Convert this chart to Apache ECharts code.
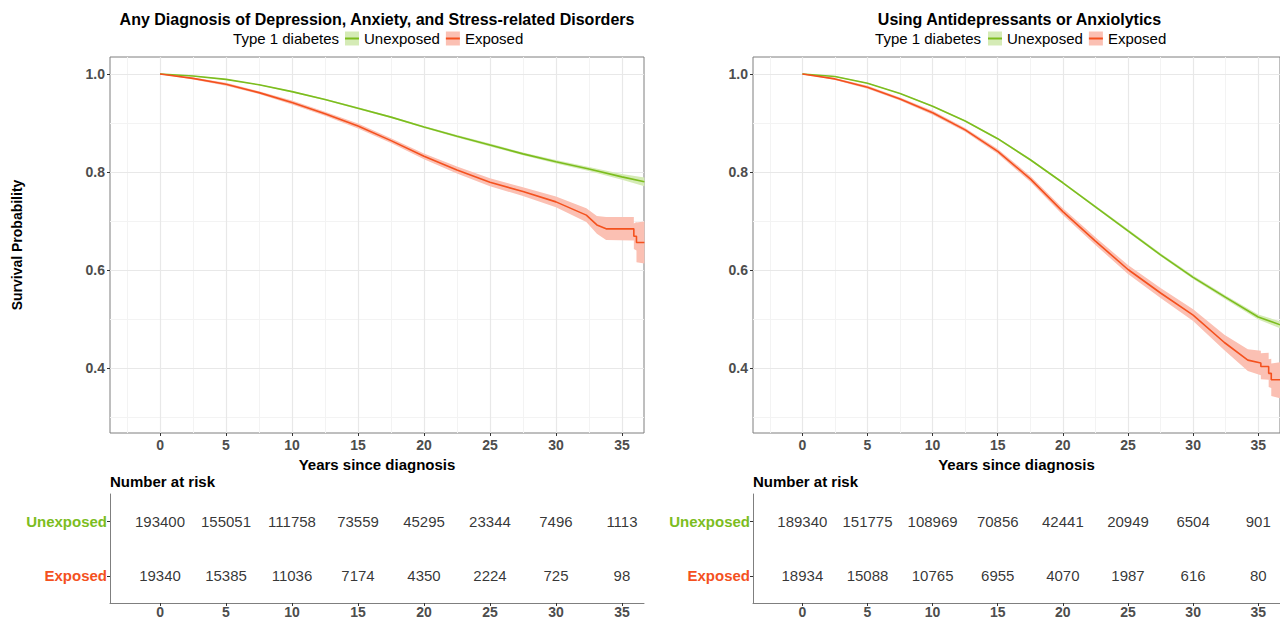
<!DOCTYPE html>
<html>
<head>
<meta charset="utf-8">
<script src="https://cdn.jsdelivr.net/npm/echarts@6/dist/echarts.min.js"></script>
<style>html,body{margin:0;padding:0;background:#fff;}#c{width:1280px;height:619px;}</style>
</head>
<body>
<div id="c"></div>
<script>
// ---------- data ----------
const titles = ['Any Diagnosis of Depression, Anxiety, and Stress-related Disorders', 'Using Antidepressants or Anxiolytics'];
const groups = ['Unexposed', 'Exposed'];
const xMajor = [0, 5, 10, 15, 20, 25, 30, 35];
const xMinor = [-2.5, 2.5, 7.5, 12.5, 17.5, 22.5, 27.5, 32.5];
const yMajor = [0.4, 0.6, 0.8, 1.0];
const yMinor = [0.3, 0.5, 0.7, 0.9];
const riskTimes = [0, 5, 10, 15, 20, 25, 30, 35];

// Panel 1 - Any diagnosis
const p1U_t  = [0, 2.5, 5, 7.5, 10, 12.5, 15, 17.5, 20, 22.5, 25, 27.5, 30, 32.5, 35, 36.7];
const p1U_s  = [1.000, 0.996, 0.989, 0.978, 0.964, 0.948, 0.930, 0.912, 0.892, 0.873, 0.855, 0.837, 0.821, 0.806, 0.790, 0.780];
const p1U_lo = [1.000, 0.995, 0.988, 0.977, 0.9625, 0.9465, 0.928, 0.910, 0.890, 0.8705, 0.852, 0.834, 0.8175, 0.802, 0.784, 0.771];
const p1U_hi = [1.000, 0.997, 0.990, 0.979, 0.9655, 0.9495, 0.932, 0.914, 0.894, 0.8755, 0.858, 0.840, 0.8245, 0.810, 0.796, 0.789];

const p1E_t  = [0, 2.5, 5, 7.5, 10, 12.5, 15, 17.5, 20, 22.5, 25, 27.5, 30, 32.3, 33.1, 33.8, 35.9, 35.9, 36.1, 36.1, 36.7];
const p1E_s  = [1.000, 0.991, 0.979, 0.962, 0.942, 0.919, 0.894, 0.864, 0.832, 0.804, 0.779, 0.760, 0.739, 0.712, 0.692, 0.684, 0.684, 0.669, 0.669, 0.656, 0.656];
const p1E_lo = [1.000, 0.989, 0.976, 0.959, 0.938, 0.915, 0.889, 0.859, 0.826, 0.797, 0.771, 0.751, 0.728, 0.698, 0.674, 0.661, 0.660, 0.643, 0.640, 0.616, 0.613];
const p1E_hi = [1.000, 0.993, 0.982, 0.965, 0.946, 0.923, 0.899, 0.869, 0.838, 0.811, 0.787, 0.769, 0.750, 0.726, 0.710, 0.708, 0.708, 0.695, 0.698, 0.697, 0.699];

const p1RiskU = [193400, 155051, 111758, 73559, 45295, 23344, 7496, 1113];
const p1RiskE = [19340, 15385, 11036, 7174, 4350, 2224, 725, 98];

// Panel 2 - Antidepressants / anxiolytics
const p2U_t  = [0, 2.5, 5, 7.5, 10, 12.5, 15, 17.5, 20, 22.5, 25, 27.5, 30, 32.5, 35, 36.7];
const p2U_s  = [1.000, 0.995, 0.981, 0.960, 0.934, 0.904, 0.868, 0.825, 0.778, 0.729, 0.680, 0.631, 0.585, 0.544, 0.504, 0.488];
const p2U_lo = [1.000, 0.994, 0.980, 0.959, 0.9325, 0.9025, 0.866, 0.823, 0.776, 0.7265, 0.677, 0.628, 0.5815, 0.540, 0.499, 0.481];
const p2U_hi = [1.000, 0.996, 0.982, 0.961, 0.9355, 0.9055, 0.870, 0.827, 0.780, 0.7315, 0.683, 0.634, 0.5885, 0.548, 0.509, 0.495];

const p2E_t  = [0, 2.5, 5, 7.5, 10, 12.5, 15, 17.5, 20, 22.5, 25, 27.5, 30, 32.4, 34.2, 35.2, 35.2, 35.8, 35.8, 36.0, 36.0, 36.7];
const p2E_s  = [1.000, 0.990, 0.973, 0.949, 0.921, 0.886, 0.842, 0.786, 0.719, 0.659, 0.601, 0.553, 0.508, 0.452, 0.416, 0.410, 0.403, 0.403, 0.389, 0.389, 0.376, 0.376];
const p2E_lo = [1.000, 0.988, 0.970, 0.946, 0.917, 0.882, 0.837, 0.780, 0.712, 0.651, 0.592, 0.543, 0.496, 0.436, 0.394, 0.385, 0.377, 0.376, 0.361, 0.359, 0.343, 0.338];
const p2E_hi = [1.000, 0.992, 0.976, 0.952, 0.925, 0.890, 0.847, 0.792, 0.726, 0.667, 0.610, 0.563, 0.520, 0.468, 0.438, 0.435, 0.430, 0.431, 0.418, 0.419, 0.409, 0.412];

const p2RiskU = [189340, 151775, 108969, 70856, 42441, 20949, 6504, 901];
const p2RiskE = [18934, 15088, 10765, 6955, 4070, 1987, 616, 80];

// ---------- styles ----------
const FONT = '"Liberation Sans", Arial, Helvetica, sans-serif';
const GREEN = '#7cbd1e', ORANGE = '#f4511e';
const GREEN_L = '#d5ebb6', ORANGE_L = '#fbc0b3';
const AXIS = '#7f7f7f', TICKTXT = '#4d4d4d';
const X_MIN = -3.79, X_MAX = 36.67, Y_MIN = 0.2673, Y_MAX = 1.0347;

const panels = [
  {left: 110, width: 534, U: [p1U_t, p1U_s, p1U_lo, p1U_hi], E: [p1E_t, p1E_s, p1E_lo, p1E_hi], rU: p1RiskU, rE: p1RiskE},
  {left: 753, width: 533, U: [p2U_t, p2U_s, p2U_lo, p2U_hi], E: [p2E_t, p2E_s, p2E_lo, p2E_hi], rU: p2RiskU, rE: p2RiskE}
];

const grid = [], xAxis = [], yAxis = [], series = [], legend = [], graphic = [];

function band(idx, t, lo, hi, color, name) {
  return {
    type: 'custom', name: name, xAxisIndex: idx, yAxisIndex: idx, silent: true, z: 2,
    animation: false, data: [[0, 1]],
    renderItem: function (params, api) {
      const pts = [];
      for (let i = 0; i < t.length; i++) pts.push(api.coord([t[i], hi[i]]));
      for (let i = t.length - 1; i >= 0; i--) pts.push(api.coord([t[i], lo[i]]));
      return {type: 'polygon', shape: {points: pts}, style: {fill: color}};
    }
  };
}

panels.forEach(function (p, k) {
  const gi = k * 2, ti = k * 2 + 1;
  grid.push({left: p.left, top: 57, width: p.width, height: 376, show: true, borderColor: AXIS, borderWidth: 1, backgroundColor: 'rgba(0,0,0,0)'});
  grid.push({left: p.left, top: 494, width: p.width, height: 110});

  const xLabel = {customValues: xMajor, color: TICKTXT, fontWeight: 'bold', fontSize: 14, fontFamily: FONT, margin: 5};
  xAxis.push({
    type: 'value', gridIndex: gi, min: X_MIN, max: X_MAX,
    axisLine: {show: false, onZero: false}, splitLine: {show: false},
    axisTick: {show: true, customValues: xMajor, length: 3, lineStyle: {color: '#333'}},
    axisLabel: xLabel,
    name: 'Years since diagnosis', nameLocation: 'middle', nameGap: 20,
    nameTextStyle: {fontWeight: 'bold', fontSize: 15, color: '#000', fontFamily: FONT}
  });
  xAxis.push({
    type: 'value', gridIndex: ti, min: X_MIN, max: X_MAX,
    axisLine: {show: true, onZero: false, lineStyle: {color: AXIS, width: 1}}, splitLine: {show: false},
    axisTick: {show: true, customValues: riskTimes, length: 3, lineStyle: {color: '#333'}},
    axisLabel: Object.assign({}, xLabel, {customValues: riskTimes, margin: 2})
  });
  const yA = {
    type: 'value', gridIndex: gi, min: Y_MIN, max: Y_MAX,
    axisLine: {show: false, onZero: false}, splitLine: {show: false},
    axisTick: {show: true, customValues: yMajor, length: 3, lineStyle: {color: '#333'}},
    axisLabel: {customValues: yMajor, formatter: function (v) { return v.toFixed(1); }, color: TICKTXT, fontWeight: 'bold', fontSize: 14, fontFamily: FONT, margin: 5}
  };
  if (k === 0) {
    yA.name = 'Survival Probability'; yA.nameLocation = 'middle'; yA.nameGap = 86; yA.nameRotate = 90;
    yA.nameTextStyle = {fontWeight: 'bold', fontSize: 14, color: '#000', fontFamily: FONT};
  }
  yAxis.push(yA);
  yAxis.push({
    type: 'category', gridIndex: ti,
    data: [{value: 'Exposed', textStyle: {color: ORANGE}}, {value: 'Unexposed', textStyle: {color: GREEN}}],
    axisLine: {show: true, onZero: false, lineStyle: {color: AXIS, width: 1}},
    axisTick: {show: true, alignWithLabel: true, length: 3, lineStyle: {color: '#333'}},
    axisLabel: {fontWeight: 'bold', fontSize: 15, fontFamily: FONT, margin: 3},
    splitLine: {show: false}
  });

  // grid lines
  const ml = [];
  xMinor.forEach(function (v) { ml.push({xAxis: v, lineStyle: {color: '#f3f3f3', width: 1, type: 'solid'}}); });
  yMinor.forEach(function (v) { ml.push({yAxis: v, lineStyle: {color: '#f3f3f3', width: 1, type: 'solid'}}); });
  xMajor.forEach(function (v) { ml.push({xAxis: v, lineStyle: {color: '#e8e8e8', width: 1.2, type: 'solid'}}); });
  yMajor.forEach(function (v) { ml.push({yAxis: v, lineStyle: {color: '#e8e8e8', width: 1.2, type: 'solid'}}); });
  series.push({
    type: 'line', name: 'grid' + k, xAxisIndex: gi, yAxisIndex: gi, z: 0, silent: true, animation: false,
    data: [[0, 1]], showSymbol: false, lineStyle: {opacity: 0},
    markLine: {silent: true, z: 0, symbol: ['none', 'none'], label: {show: false}, animation: false,
      lineStyle: {type: 'solid'}, data: ml}
  });

  series.push(band(gi, p.U[0], p.U[2], p.U[3], GREEN_L, 'Unexposed CI'));
  series.push(band(gi, p.E[0], p.E[2], p.E[3], ORANGE_L, 'Exposed CI'));
  [['Unexposed', p.U, GREEN], ['Exposed', p.E, ORANGE]].forEach(function (s) {
    series.push({
      type: 'line', name: s[0], xAxisIndex: gi, yAxisIndex: gi, z: 6, animation: false,
      showSymbol: false, symbol: 'none', color: s[2],
      lineStyle: {color: s[2], width: 1.6},
      data: s[1][0].map(function (t, i) { return [t, s[1][1][i]]; })
    });
  });

  // risk table
  [['Unexposed', p.rU], ['Exposed', p.rE]].forEach(function (s) {
    series.push({
      type: 'scatter', name: 'risk ' + s[0], xAxisIndex: ti, yAxisIndex: ti, symbolSize: 0, silent: true, animation: false,
      data: riskTimes.map(function (t, i) { return [t, s[0], s[1][i]]; }),
      label: {show: true, position: 'inside', formatter: function (prm) { return String(prm.value[2]); }, color: '#000', fontSize: 15, fontFamily: FONT}
    });
  });

  const cx = p.left + p.width / 2;
  graphic.push({type: 'text', x: cx, y: 19, style: {text: titles[k], textAlign: 'center', textVerticalAlign: 'middle', font: 'bold 16px ' + FONT, fill: '#000'}});
  graphic.push({type: 'text', x: p.left, y: 481, style: {text: 'Number at risk', textAlign: 'left', textVerticalAlign: 'middle', font: 'bold 15px ' + FONT, fill: '#000'}});
});

// legends
const legPos = [{text: 339, left: 345}, {text: 981, left: 988}];
legPos.forEach(function (lp) {
  graphic.push({type: 'text', x: lp.text, y: 38, style: {text: 'Type 1 diabetes', textAlign: 'right', textVerticalAlign: 'middle', font: '15px ' + FONT, fill: '#000'}});
  const base = {left: lp.left, top: 31, orient: 'horizontal', itemWidth: 14, itemHeight: 14, itemGap: 6, selectedMode: false, padding: 0};
  legend.push(Object.assign({}, base, {
    icon: 'rect', itemStyle: {borderWidth: 0},
    textStyle: {fontSize: 15, color: '#000', fontFamily: FONT},
    data: [{name: 'Unexposed', itemStyle: {color: GREEN_L}}, {name: 'Exposed', itemStyle: {color: ORANGE_L}}]
  }));
  legend.push(Object.assign({}, base, {
    icon: 'path://M0,0H14V2H0Z', itemStyle: {borderWidth: 0}, z: 5,
    textStyle: {fontSize: 15, color: 'rgba(0,0,0,0)', fontFamily: FONT},
    data: [{name: 'Unexposed', itemStyle: {color: GREEN}}, {name: 'Exposed', itemStyle: {color: ORANGE}}]
  }));
});

const chart = echarts.init(document.getElementById('c'), null, {renderer: 'svg'});
chart.setOption({
  backgroundColor: '#fff',
  animation: false,
  textStyle: {fontFamily: FONT},
  grid: grid, xAxis: xAxis, yAxis: yAxis, series: series, legend: legend, graphic: graphic
});
</script>
</body>
</html>
